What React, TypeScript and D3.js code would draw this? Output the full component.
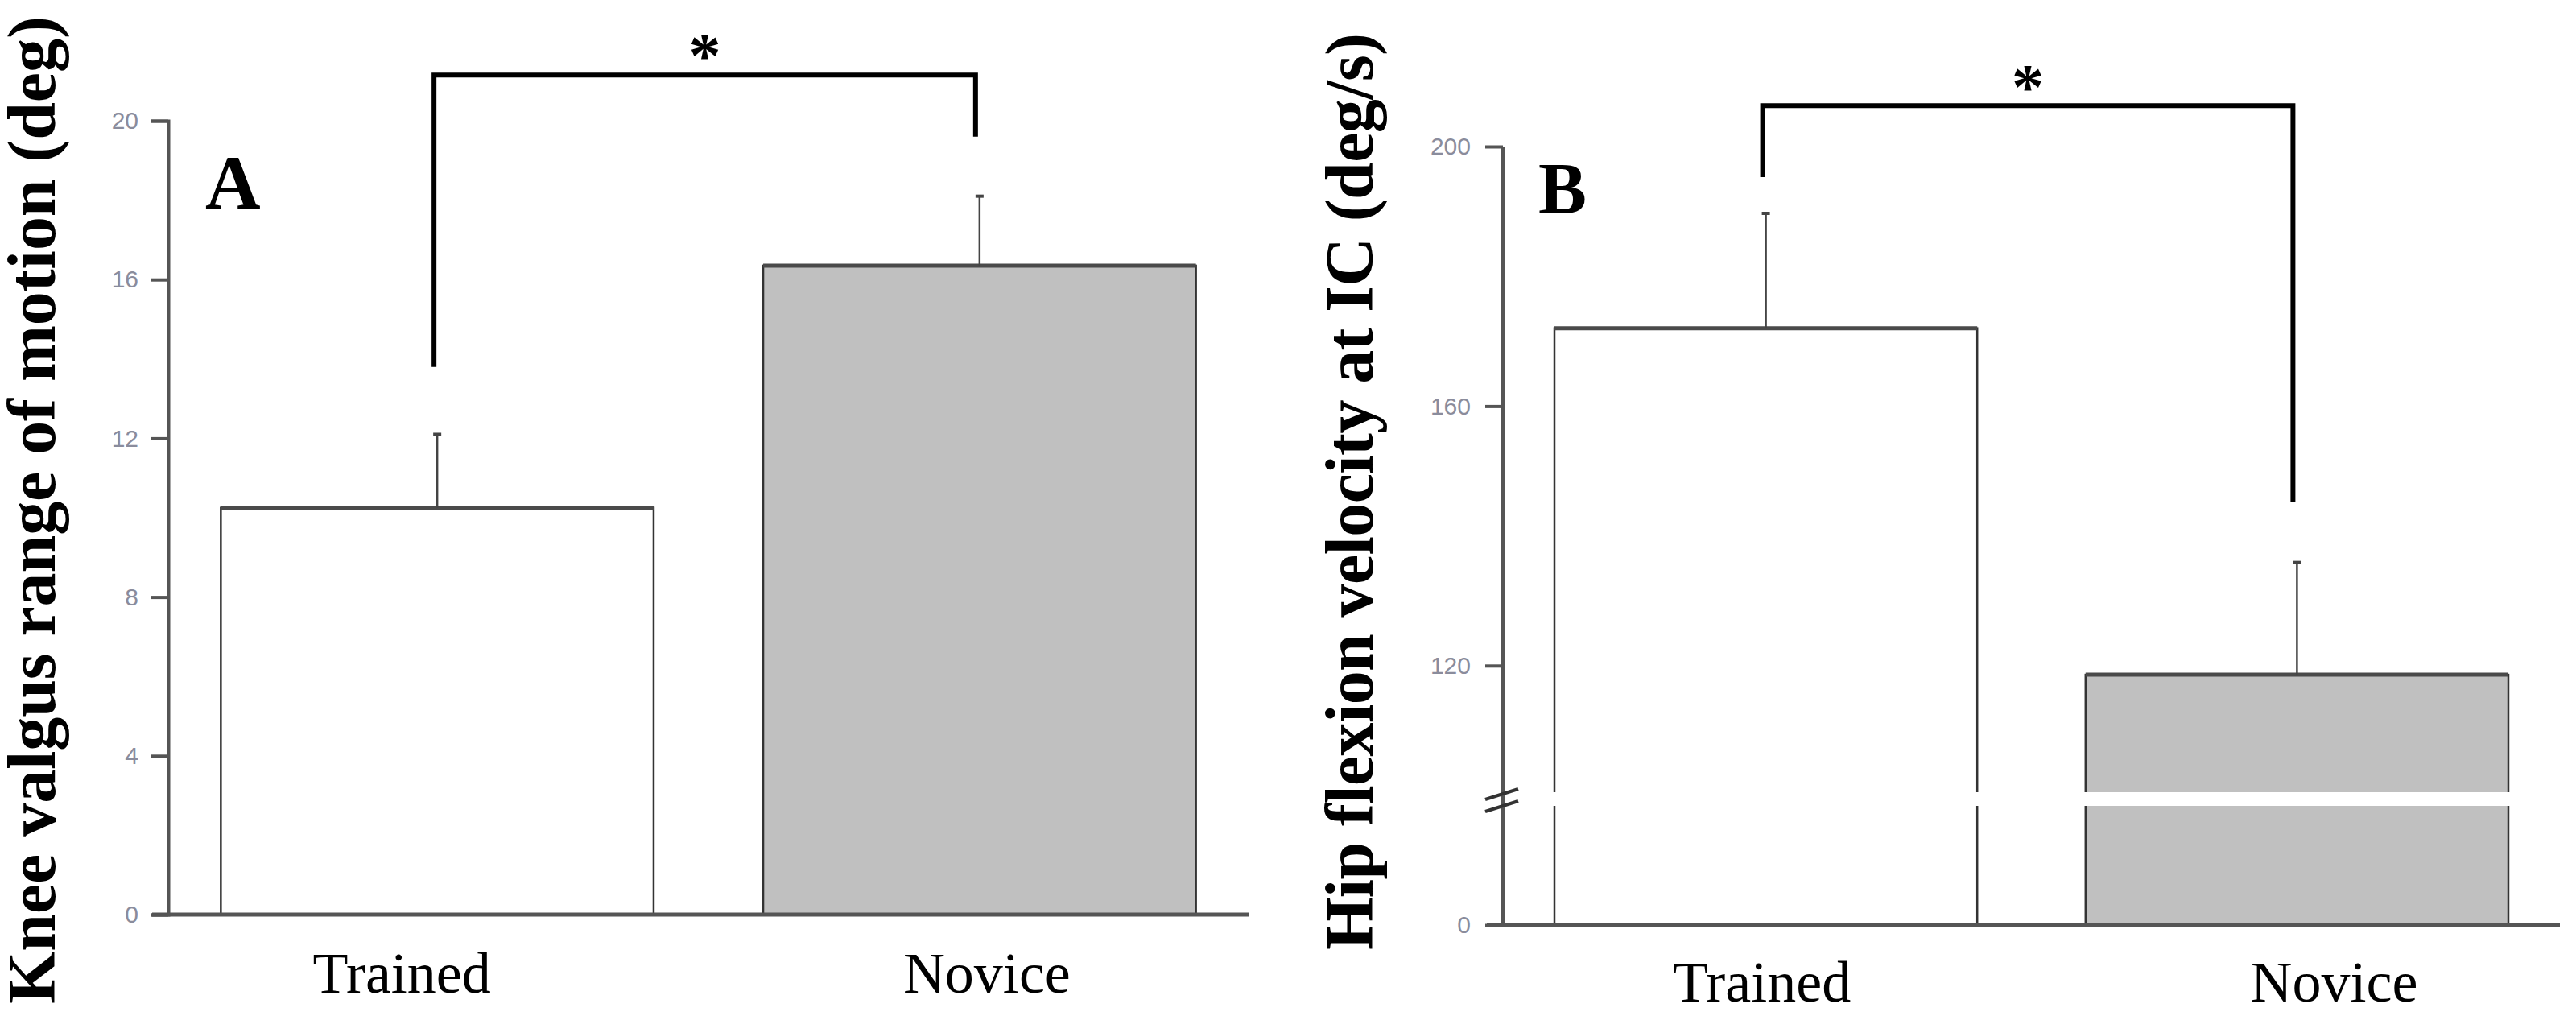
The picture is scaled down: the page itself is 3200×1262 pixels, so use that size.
import React, { useEffect, useRef } from "react";
import * as d3 from "d3";

// ---- data ----
const groups = ["Trained", "Novice"];
const kneeMeans = [10.25, 16.35];
const kneeErr = [1.85, 1.75];
const kneeTicks = [0, 4, 8, 12, 16, 20];
const kneeBracketEnds = [13.8, 19.6];
const kneeBracketTop = 21.15;

const hipMeans = [172, 118.6];
const hipErr = [17.7, 17.3];
const hipTicksUpper = [120, 160, 200];
const hipTicksLower = [0];
const hipBracketEnds = [195.3, 145.3];
const hipBracketTop = 206.3;

const W = 3200;
const H = 1262;
const SERIF = "'Liberation Serif', 'Times New Roman', serif";
const SANS = "'Liberation Sans', Arial, sans-serif";
const fills = ["#ffffff", "#c0c0c0"];

// ---- layout ----
const A = { axisX: 209, xEnd: 1551, y0: 1136, yTop: 150, labelOffsets: [-44, 9], labelBaseline: 1233 };
const B = { axisX: 1867, xEnd: 3180, y0: 1149, lowTop: 1001, upBottom: 988, yTop: 182, gapTop: 984, gapBottom: 1001, labelOffsets: [-5, 46], labelBaseline: 1244 };

const xA = d3.scaleBand<string>().domain(groups).range([A.axisX, A.xEnd]).paddingInner(0.202).paddingOuter(0.097);
const yA = d3.scaleLinear().domain([0, 20]).range([A.y0, A.yTop]);

const xB = d3.scaleBand<string>().domain(groups).range([B.axisX, B.xEnd]).paddingInner(0.204).paddingOuter(0.097);
const yBUp = d3.scaleLinear().domain([100, 200]).range([B.upBottom, B.yTop]);
const yBLow = d3.scaleLinear().domain([0, 100]).range([B.y0, B.lowTop]);
const yB = (v: number) => (v >= 100 ? yBUp(v) : yBLow(v));

function styleAxis(g: d3.Selection<SVGGElement, unknown, null, undefined>, hideDomain: boolean) {
  g.selectAll(".domain").attr("stroke", "#555").attr("stroke-width", 4).attr("display", hideDomain ? "none" : null);
  g.selectAll(".tick line").attr("stroke", "#555").attr("stroke-width", 4);
  g.selectAll(".tick text")
    .attr("font-family", SANS)
    .attr("font-size", 30)
    .attr("fill", "#8a8c9c");
}

function Bars({ x, y, means, errs, y0 }: any) {
  return (
    <g>
      {groups.map((gname, i) => {
        const x0 = x(gname);
        const bw = x.bandwidth();
        const top = y(means[i]);
        const cx = x0 + bw / 2;
        const et = y(means[i] + errs[i]);
        return (
          <g key={gname}>
            <rect x={x0} y={top} width={bw} height={y0 - top} fill={fills[i]} stroke="#333" strokeWidth={2.5} />
            <line x1={x0} x2={x0 + bw} y1={top} y2={top} stroke="#4a4a4a" strokeWidth={5} />
            <line x1={cx} x2={cx} y1={top} y2={et} stroke="#444" strokeWidth={2.5} />
            <line x1={cx - 5} x2={cx + 5} y1={et} y2={et} stroke="#444" strokeWidth={4} />
          </g>
        );
      })}
    </g>
  );
}

function Bracket({ x, y, ends, top, starY }: any) {
  const lx = x(groups[0]) + x.bandwidth() / 2 - 4;
  const rx = x(groups[1]) + x.bandwidth() / 2 - 5;
  const ty = y(top);
  return (
    <g>
      <path d={`M${lx},${y(ends[0])}V${ty}H${rx}V${y(ends[1])}`} fill="none" stroke="#000" strokeWidth={6} strokeLinejoin="miter" />
      <text x={(lx + rx) / 2} y={ty + starY} textAnchor="middle" fontFamily={SERIF} fontWeight="bold" fontSize={80} fill="#000">*</text>
    </g>
  );
}

export default function App() {
  const axA = useRef<SVGGElement>(null);
  const axBUp = useRef<SVGGElement>(null);
  const axBLow = useRef<SVGGElement>(null);

  useEffect(() => {
    document.body.style.margin = "0";
    const gA = d3.select(axA.current!);
    gA.call(d3.axisLeft(yA).tickValues(kneeTicks).tickSize(22).tickSizeOuter(22).tickPadding(15).tickFormat(d3.format("d")) as any);
    styleAxis(gA as any, false);
    const gU = d3.select(axBUp.current!);
    gU.call(d3.axisLeft(yBUp).tickValues(hipTicksUpper).tickSize(22).tickSizeOuter(0).tickPadding(18).tickFormat(d3.format("d")) as any);
    styleAxis(gU as any, true);
    const gL = d3.select(axBLow.current!);
    gL.call(d3.axisLeft(yBLow).tickValues(hipTicksLower).tickSize(22).tickSizeOuter(0).tickPadding(18).tickFormat(d3.format("d")) as any);
    styleAxis(gL as any, true);
  }, []);

  return (
    <svg width={W} height={H} style={{ position: "absolute", left: 0, top: 0, background: "#fff" }} xmlns="http://www.w3.org/2000/svg">
      <rect width={W} height={H} fill="#fff" />

      {/* Panel A */}
      <Bars x={xA} y={yA} means={kneeMeans} errs={kneeErr} y0={A.y0} />
      <line x1={A.axisX - 20} x2={A.xEnd} y1={A.y0} y2={A.y0} stroke="#555" strokeWidth={5} />
      <g ref={axA} transform={`translate(${A.axisX},0)`} />
      <Bracket x={xA} y={yA} ends={kneeBracketEnds} top={kneeBracketTop} starY={3} />
      <text x={255} y={259} fontFamily={SERIF} fontWeight="bold" fontSize={95} fill="#000">A</text>
      <text transform="translate(68,1247) rotate(-90)" fontFamily={SERIF} fontWeight="bold" fontSize={84} textLength={1227} lengthAdjust="spacing" fill="#000">
        Knee valgus range of motion (deg)
      </text>
      {groups.map((gname, i) => (
        <text key={gname} x={xA(gname)! + xA.bandwidth() / 2 + A.labelOffsets[i]} y={A.labelBaseline} textAnchor="middle" fontFamily={SERIF} fontSize={72} fill="#000">{gname}</text>
      ))}

      {/* Panel B */}
      <Bars x={xB} y={yB} means={hipMeans} errs={hipErr} y0={B.y0} />
      {groups.map((gname) => (
        <rect key={gname} x={xB(gname)! - 4} y={B.gapTop} width={xB.bandwidth() + 8} height={B.gapBottom - B.gapTop} fill="#fff" />
      ))}
      <line x1={B.axisX - 20} x2={B.xEnd} y1={B.y0} y2={B.y0} stroke="#555" strokeWidth={5} />
      <line x1={B.axisX} x2={B.axisX} y1={B.yTop} y2={B.y0} stroke="#555" strokeWidth={4} />
      <g ref={axBUp} transform={`translate(${B.axisX},0)`} />
      <g ref={axBLow} transform={`translate(${B.axisX},0)`} />
      <line x1={B.axisX - 22} x2={B.axisX + 19} y1={993} y2={980} stroke="#333" strokeWidth={4} />
      <line x1={B.axisX - 22} x2={B.axisX + 19} y1={1008} y2={995} stroke="#333" strokeWidth={4} />
      <Bracket x={xB} y={yB} ends={hipBracketEnds} top={hipBracketTop} starY={4} />
      <text x={1911} y={265} fontFamily={SERIF} fontWeight="bold" fontSize={90} fill="#000">B</text>
      <text transform="translate(1705,1180) rotate(-90)" fontFamily={SERIF} fontWeight="bold" fontSize={84} textLength={1139} lengthAdjust="spacing" fill="#000">
        Hip flexion velocity at IC (deg/s)
      </text>
      {groups.map((gname, i) => (
        <text key={gname} x={xB(gname)! + xB.bandwidth() / 2 + B.labelOffsets[i]} y={B.labelBaseline} textAnchor="middle" fontFamily={SERIF} fontSize={72} fill="#000">{gname}</text>
      ))}
    </svg>
  );
}
